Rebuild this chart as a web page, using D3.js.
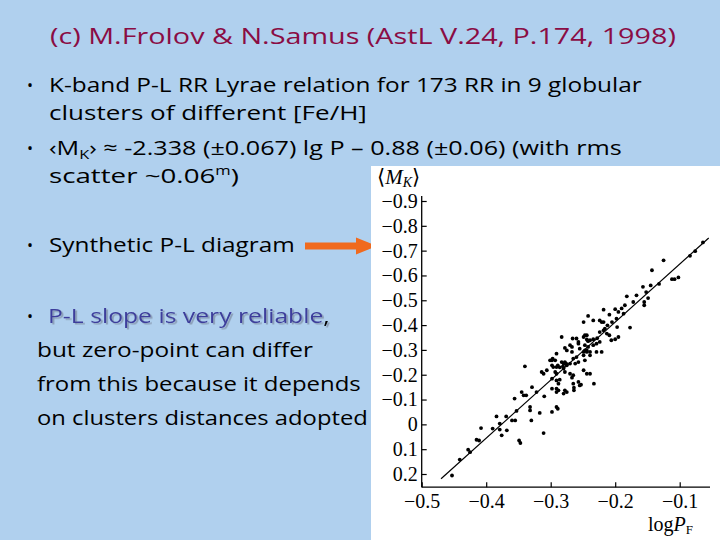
<!DOCTYPE html>
<html>
<head>
<meta charset="utf-8">
<script src="https://d3js.org/d3.v7.min.js"></script>
<style>
    body { margin: 0; background: #b0d0ee; }
    svg { display: block; }
</style>
</head>
<body>
<svg id="slide" width="720" height="540"></svg>
<script>
    // RR Lyrae stars
    var logP = [-0.064, -0.076, -0.084, -0.125, -0.143, -0.102, -0.112, -0.108, -0.132, -0.145,
        -0.157, -0.152, -0.167, -0.182, -0.149, -0.172, -0.155, -0.155, -0.185, -0.190,
        -0.200, -0.195, -0.187, -0.218, -0.209, -0.177, -0.198, -0.197, -0.205, -0.218,
        -0.212, -0.216, -0.218, -0.224, -0.234, -0.242, -0.249, -0.224, -0.213, -0.200,
        -0.209, -0.228, -0.234, -0.239, -0.244, -0.242, -0.229, -0.224, -0.242, -0.249,
        -0.260, -0.257, -0.266, -0.283, -0.255, -0.249, -0.239, -0.221, -0.270, -0.267,
        -0.278, -0.275, -0.267, -0.260, -0.291, -0.297, -0.298, -0.293, -0.283, -0.280,
        -0.278, -0.206, -0.195, -0.234, -0.247, -0.244, -0.249, -0.276, -0.275, -0.270,
        -0.247, -0.257, -0.265, -0.262, -0.289, -0.286, -0.291, -0.281, -0.301, -0.298,
        -0.296, -0.280, -0.278, -0.293, -0.291, -0.306, -0.314, -0.311, -0.249, -0.244,
        -0.265, -0.270, -0.267, -0.291, -0.288, -0.286, -0.298, -0.257, -0.255, -0.265,
        -0.264, -0.264, -0.253, -0.233, -0.239, -0.291, -0.288, -0.291, -0.278, -0.275,
        -0.280, -0.298, -0.310, -0.322, -0.329, -0.340, -0.345, -0.342, -0.338, -0.356,
        -0.332, -0.332, -0.330, -0.317, -0.298, -0.291, -0.289, -0.311, -0.353, -0.360,
        -0.355, -0.369, -0.368, -0.384, -0.379, -0.376, -0.390, -0.408, -0.415, -0.411,
        -0.428, -0.425, -0.441, -0.453, -0.349, -0.347, -0.379, -0.247, -0.244, -0.229,
        -0.247, -0.244, -0.239, -0.257, -0.221];
    var magK = [-0.733, -0.698, -0.679, -0.661, -0.621, -0.592, -0.585, -0.585, -0.566, -0.560,
        -0.554, -0.533, -0.520, -0.516, -0.509, -0.493, -0.493, -0.480, -0.480, -0.467,
        -0.464, -0.453, -0.446, -0.462, -0.442, -0.390, -0.426, -0.392, -0.412, -0.412,
        -0.399, -0.386, -0.379, -0.419, -0.419, -0.437, -0.412, -0.372, -0.366, -0.343,
        -0.359, -0.347, -0.343, -0.339, -0.342, -0.335, -0.325, -0.332, -0.312, -0.352,
        -0.346, -0.332, -0.346, -0.352, -0.305, -0.292, -0.292, -0.292, -0.319, -0.312,
        -0.308, -0.298, -0.292, -0.271, -0.285, -0.265, -0.258, -0.258, -0.251, -0.245,
        -0.251, -0.339, -0.352, -0.319, -0.319, -0.298, -0.278, -0.245, -0.238, -0.245,
        -0.258, -0.251, -0.265, -0.245, -0.238, -0.230, -0.231, -0.234, -0.258, -0.238,
        -0.231, -0.225, -0.211, -0.211, -0.204, -0.218, -0.211, -0.204, -0.218, -0.204,
        -0.198, -0.204, -0.188, -0.177, -0.164, -0.180, -0.184, -0.171, -0.157, -0.164,
        -0.148, -0.137, -0.160, -0.164, -0.204, -0.144, -0.137, -0.130, -0.137, -0.130,
        -0.124, -0.144, -0.113, -0.130, -0.150, -0.234, -0.130, -0.117, -0.117, -0.104,
        -0.070, -0.056, -0.016, -0.046, -0.050, -0.070, -0.063, 0.035, -0.054, -0.016,
        -0.016, -0.032, 0.024, -0.032, 0.021, 0.044, 0.017, 0.015, 0.062, 0.065,
        0.102, 0.112, 0.142, 0.206, 0.065, 0.075, -0.003, -0.359, -0.359, -0.292,
        -0.298, -0.292, -0.278, -0.325, -0.412];

    // fitted relation, end points as drawn
    var fitLogP = [-0.47, -0.055];
    var fitMagK = [0.219, -0.751];

    var yTicks = [-0.9, -0.8, -0.7, -0.6, -0.5, -0.4, -0.3, -0.2, -0.1, 0, 0.1, 0.2];
    var xTicks = [-0.5, -0.4, -0.3, -0.2, -0.1];

    var svg = d3.select('#slide');
    svg.append('rect').attr('width', 720).attr('height', 540).attr('fill', '#b0d0ee');

    var defs = svg.append('defs');
    defs.append('filter').attr('id', 'shadow')
        .append('feDropShadow')
        .attr('dx', 1.5).attr('dy', 1.5).attr('stdDeviation', 0.4)
        .attr('flood-color', '#8090a8').attr('flood-opacity', 0.8);

    var slideFont = '"Open Sans", "Noto Sans", sans-serif';

    // one line of slide text, stretched to the width it has on the slide
    function addLine(x0, y0, width, parts, size, color) {
        var g = svg.append('g').attr('transform', 'translate(' + x0 + ',' + y0 + ')');
        var t = g.append('text')
            .attr('font-family', slideFont)
            .attr('font-size', size)
            .attr('fill', color || '#000');
        parts.forEach(function(p) {
            if (typeof p === 'string') p = { t: p };
            var s = t.append('tspan').text(p.t);
            if (p.c) s.attr('fill', p.c);
            if (p.dy) s.attr('dy', p.dy);
            if (p.size) s.attr('font-size', p.size);
        });
        var w = t.node().getComputedTextLength();
        g.attr('transform', 'translate(' + x0 + ',' + y0 + ') scale(' + (width / w) + ',1)');
        return t;
    }

    function bullet(y0) {
        svg.append('text')
            .attr('x', 27).attr('y', y0)
            .attr('font-family', slideFont)
            .attr('font-size', 16)
            .text('•');
    }

    addLine(50, 44, 626, ['(c) M.Frolov & N.Samus (AstL V.24, P.174, 1998)'], 22, '#8a0c44');

    bullet(91);
    addLine(49, 92, 593, ['K-band P-L RR Lyrae relation for 173 RR in 9 globular'], 20);
    addLine(49, 120, 318, ['clusters of different [Fe/H]'], 20);

    bullet(154);
    addLine(49, 155, 573, ['‹M', { t: 'K', dy: 4, size: 13 }, { t: '› ≈ -2.338 (±0.067) lg P – 0.88 (±0.06) (with rms', dy: -4 }], 20);
    addLine(49, 183, 190, ['scatter ~0.06', { t: 'm', dy: -8, size: 12 }, { t: ')', dy: 8 }], 20);

    bullet(251);
    addLine(49, 252, 246, ['Synthetic P-L diagram'], 20);

    bullet(322);
    addLine(48, 323, 282, [{ t: 'P-L slope is very reliable', c: '#3e3e9c' }, ','], 20)
        .attr('filter', 'url(#shadow)');
    addLine(37, 357, 276, ['but zero-point can differ'], 20);
    addLine(37, 391, 324, ['from this because it depends'], 20);
    addLine(37, 425, 331, ['on clusters distances adopted'], 20);

    // orange arrow pointing at the diagram
    svg.append('path')
        .attr('d', 'M305,242.5 L356,242.5 L356,237.5 L377,246 L356,254.5 L356,249.5 L305,249.5 Z')
        .attr('fill', '#f06a1e');

    // diagram
    svg.append('rect')
        .attr('x', 371).attr('y', 166)
        .attr('width', 349).attr('height', 374)
        .attr('fill', '#fff');

    var x = d3.scaleLinear().domain([-0.5, -0.1]).range([421.7, 679.7]);
    var y = d3.scaleLinear().domain([-0.9, 0.2]).range([201, 474]);

    var serif = '"Liberation Serif", "Times New Roman", "DejaVu Serif", serif';
    var fmt = function(d) { return d === 0 ? '0' : d3.format('.1f')(d); };

    var yAxis = svg.append('g')
        .attr('transform', 'translate(' + x(-0.5) + ',0)')
        .call(d3.axisLeft(y).tickValues(yTicks).tickSizeInner(-5).tickSizeOuter(0).tickPadding(4).tickFormat(fmt));
    yAxis.select('.domain').remove();

    var xAxis = svg.append('g')
        .attr('transform', 'translate(0,' + y(0.253) + ')')
        .call(d3.axisBottom(x).tickValues(xTicks).tickSizeInner(-5).tickSizeOuter(0).tickPadding(7).tickFormat(fmt));
    xAxis.select('.domain').remove();

    [yAxis, xAxis].forEach(function(a) {
        a.attr('font-family', serif).attr('font-size', 20);
        a.selectAll('line').attr('stroke', '#000').attr('stroke-width', 1.2);
        a.selectAll('text').attr('fill', '#000');
    });

    svg.append('line')
        .attr('x1', x(-0.5)).attr('x2', x(-0.5))
        .attr('y1', y(-0.92)).attr('y2', y(0.253))
        .attr('stroke', '#000').attr('stroke-width', 1.3);
    svg.append('line')
        .attr('x1', x(-0.5)).attr('x2', x(-0.053))
        .attr('y1', y(0.253)).attr('y2', y(0.253))
        .attr('stroke', '#000').attr('stroke-width', 1.3);

    var fit = fitLogP.map(function(p, i) { return [p, fitMagK[i]]; });
    svg.append('path')
        .datum(fit)
        .attr('d', d3.line().x(function(d) { return x(d[0]); }).y(function(d) { return y(d[1]); }))
        .attr('stroke', '#000').attr('stroke-width', 1.2).attr('fill', 'none');

    svg.selectAll('circle.star')
        .data(logP)
        .enter()
        .append('circle')
        .attr('class', 'star')
        .attr('cx', function(d) { return x(d); })
        .attr('cy', function(d, i) { return y(magK[i]); })
        .attr('r', 1.9)
        .attr('fill', '#000');

    // axis titles
    var yt = svg.append('text')
        .attr('x', 377).attr('y', 184)
        .attr('font-family', serif).attr('font-size', 21);
    yt.append('tspan').text('⟨');
    yt.append('tspan').attr('font-style', 'italic').text('M');
    yt.append('tspan').attr('font-style', 'italic').attr('font-size', 14).attr('dy', 3).text('K');
    yt.append('tspan').attr('dy', -3).text('⟩');

    var xt = svg.append('text')
        .attr('x', 648).attr('y', 531)
        .attr('font-family', serif).attr('font-size', 20);
    xt.append('tspan').text('log');
    xt.append('tspan').attr('font-style', 'italic').text('P');
    xt.append('tspan').attr('font-size', 13).attr('dy', 3).text('F');
</script>
</body>
</html>
